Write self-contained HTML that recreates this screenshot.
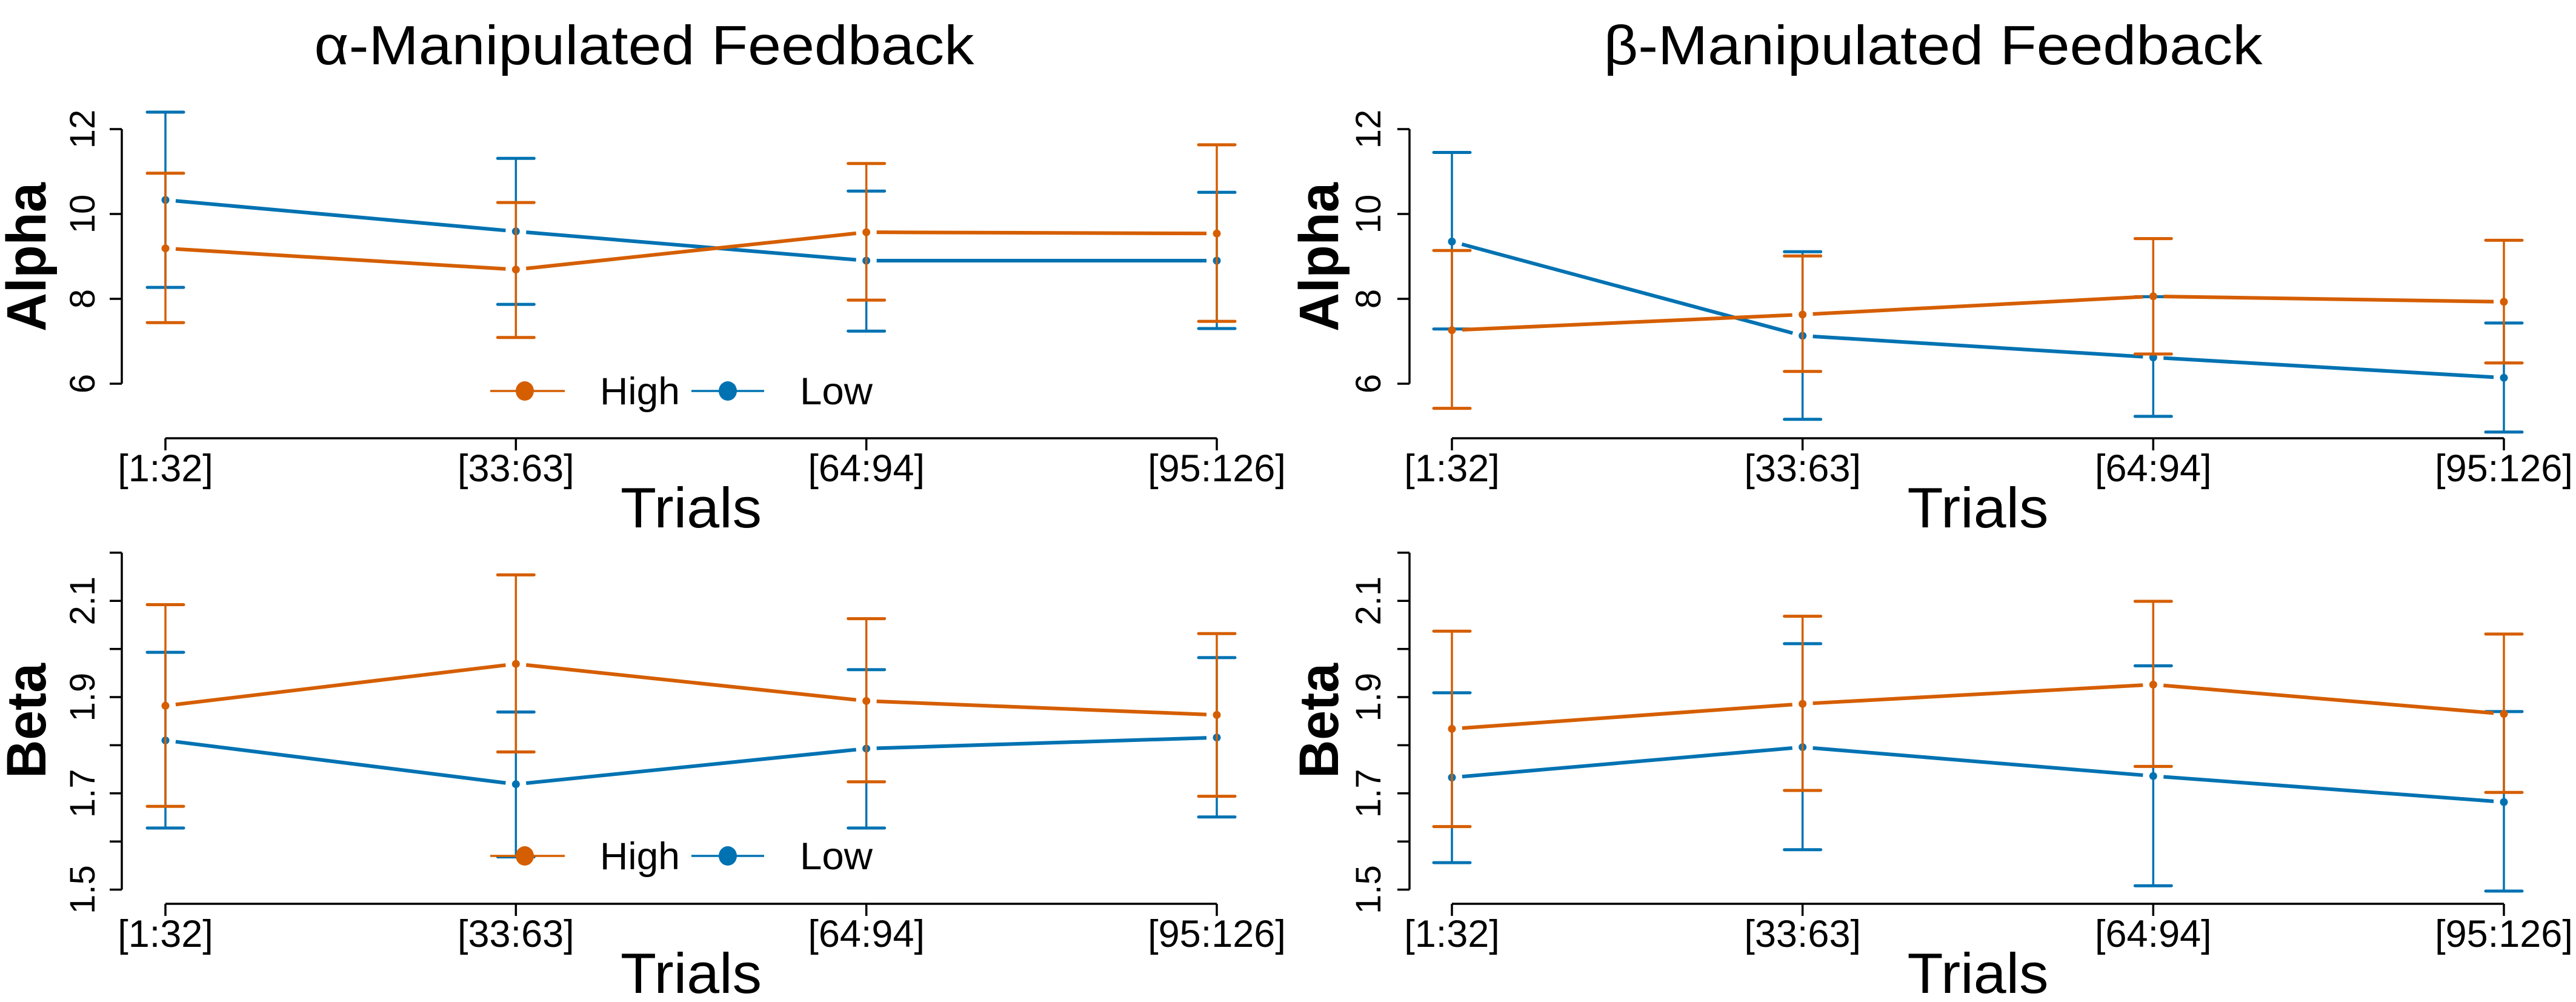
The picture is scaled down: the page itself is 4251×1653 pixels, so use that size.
<!DOCTYPE html>
<html><head><meta charset="utf-8"><style>
html,body{margin:0;padding:0;background:#fff;}
svg{display:block;font-family:"Liberation Sans",Arial,sans-serif;}
</style></head>
<body>
<svg id="fig" width="4251" height="1653" viewBox="0 0 4251 1653" xmlns="http://www.w3.org/2000/svg">
<rect width="4251" height="1653" fill="#fff"/>
<text x="1063" y="106" font-size="91" text-anchor="middle" textLength="1089" lengthAdjust="spacingAndGlyphs">α-Manipulated Feedback</text>
<text x="3190" y="106" font-size="91" text-anchor="middle" textLength="1087" lengthAdjust="spacingAndGlyphs">β-Manipulated Feedback</text>
</svg>
<script>
const categories = ["[1:32]","[33:63]","[64:94]","[95:126]"];
const seriesNames = ["High","Low"];
// top-left: alpha, alpha-manipulated
const tlHigh = [9.19, 8.69, 9.57, 9.54];
const tlHighUp = [10.96, 10.27, 11.19, 11.63];
const tlHighLo = [7.44, 7.09, 7.97, 7.47];
const tlLow = [10.33, 9.59, 8.90, 8.90];
const tlLowUp = [12.40, 11.31, 10.54, 10.51];
const tlLowLo = [8.27, 7.87, 7.24, 7.30];
// top-right: alpha, beta-manipulated
const trHigh = [7.26, 7.63, 8.06, 7.93];
const trHighUp = [9.14, 9.01, 9.42, 9.38];
const trHighLo = [5.42, 6.29, 6.70, 6.49];
const trLow = [9.35, 7.13, 6.62, 6.14];
const trLowUp = [11.45, 9.11, 8.05, 7.43];
const trLowLo = [7.29, 5.16, 5.23, 4.86];
// bottom-left: beta, alpha-manipulated
const blHigh = [1.882, 1.969, 1.892, 1.863];
const blHighUp = [2.092, 2.154, 2.063, 2.032];
const blHighLo = [1.673, 1.786, 1.724, 1.694];
const blLow = [1.810, 1.719, 1.793, 1.816];
const blLowUp = [1.993, 1.869, 1.957, 1.982];
const blLowLo = [1.628, 1.568, 1.628, 1.651];
// bottom-right: beta, beta-manipulated
const brHigh = [1.834, 1.886, 1.926, 1.865];
const brHighUp = [2.037, 2.068, 2.099, 2.031];
const brHighLo = [1.631, 1.706, 1.756, 1.702];
const brLow = [1.733, 1.796, 1.736, 1.682];
const brLowUp = [1.909, 2.011, 1.965, 1.870];
const brLowLo = [1.556, 1.583, 1.508, 1.497];
const alphaTicks = [6, 8, 10, 12];
const alphaTickLabels = ["6","8","10","12"];
const betaTicks = [1.5,1.6,1.7,1.8,1.9,2.0,2.1,2.2];
const betaTickLabels = ["1.5","","1.7","","1.9","","2.1",""];

const NS = "http://www.w3.org/2000/svg";
const svg = document.getElementById("fig");
const ORANGE = "#D55E00", BLUE = "#0072B2";
function mk(tag, attrs, parent) {
  const e = document.createElementNS(NS, tag);
  for (const k in attrs) e.setAttribute(k, attrs[k]);
  (parent || svg).appendChild(e);
  return e;
}

function panel(cfg) {
  const g = mk("g", {});
  
  
  const xs = i => cfg.x0 + i * (cfg.x1 - cfg.x0) / (categories.length - 1);
  const ys = v => cfg.yRef - (v - cfg.vRef) * cfg.ppu;
  // y axis
  const ticks = cfg.ticks, labels = cfg.tickLabels;
  const ya = mk("line", {x1: cfg.ax, x2: cfg.ax, y1: ys(ticks[0]), y2: ys(ticks[ticks.length-1]), stroke: "#000", "stroke-width": 3.5}, g);
  
  
  ticks.forEach((t, i) => {
    const y = ys(t);
    const tk = mk("line", {x1: cfg.ax - 20, x2: cfg.ax, y1: y, y2: y, stroke: "#000", "stroke-width": 3.5}, g);
    
    
    if (labels[i]) {
      const tl = mk("text", {x: cfg.labX, y: y, "font-size": 58, "text-anchor": "middle", transform: `rotate(-90 ${cfg.labX} ${y})`}, g);
      tl.textContent = labels[i];
      
      
    }
  });
  // y title
  const yt = mk("text", {x: cfg.ytX, y: cfg.ytY, "font-size": 92, "font-weight": "bold", "text-anchor": "middle", transform: `rotate(-90 ${cfg.ytX} ${cfg.ytY})`, textLength: cfg.ytLen, lengthAdjust: "spacingAndGlyphs"}, g);
  yt.textContent = cfg.yTitle;
  
  
  // x axis
  const xa = mk("line", {x1: xs(0), x2: xs(categories.length-1), y1: cfg.xAxY, y2: cfg.xAxY, stroke: "#000", "stroke-width": 3.5}, g);
  
  
  categories.forEach((c, i) => {
    const tk = mk("line", {x1: xs(i), x2: xs(i), y1: cfg.xAxY, y2: cfg.xAxY + 20, stroke: "#000", "stroke-width": 3.5}, g);
    
    
    const tl = mk("text", {x: xs(i), y: cfg.xAxY + 71, "font-size": 63, "text-anchor": "middle"}, g);
    tl.textContent = c;
    
    
  });
  const xt = mk("text", {x: (xs(0) + xs(3)) / 2, y: cfg.xAxY + 147, "font-size": 94, "text-anchor": "middle", textLength: 233, lengthAdjust: "spacingAndGlyphs"}, g);
  xt.textContent = "Trials";
  
  
  // series
  const series = [
    {name: "low", color: BLUE, v: cfg.low, up: cfg.lowUp, lo: cfg.lowLo},
    {name: "high", color: ORANGE, v: cfg.high, up: cfg.highUp, lo: cfg.highLo}
  ];
  series.forEach(s => {
    const sg = mk("g", {}, g);
    
    
    // lines with gaps
    for (let i = 0; i < s.v.length - 1; i++) {
      const xa1 = xs(i), ya1 = ys(s.v[i]), xb = xs(i+1), yb = ys(s.v[i+1]);
      const dx = xb - xa1, dy = yb - ya1, L = Math.hypot(dx, dy), gp = 17;
      const ln = mk("line", {x1: xa1 + dx*gp/L, y1: ya1 + dy*gp/L, x2: xb - dx*gp/L, y2: yb - dy*gp/L, stroke: s.color, "stroke-width": 6}, sg);
      
      
    }
    s.v.forEach((v, i) => {
      const x = xs(i);
      const eb = mk("line", {x1: x, x2: x, y1: ys(s.up[i]), y2: ys(s.lo[i]), stroke: s.color, "stroke-width": 3.5}, sg);
      
      
      [s.up[i], s.lo[i]].forEach(b => {
        const cp = mk("line", {x1: x - 30, x2: x + 30, y1: ys(b), y2: ys(b), stroke: s.color, "stroke-width": 5, "stroke-linecap": "round"}, sg);
        
        
      });
      const pt = mk("circle", {cx: x, cy: ys(v), r: 6.5, fill: s.color}, sg);
      
      
    });
  });
  // legend
  if (cfg.legY) {
    const lg = mk("g", {}, g);
    
    
    const items = [{c: ORANGE, x1: 809, x2: 932, mx: 866, tx: 990, tl: 132, t: seriesNames[0]},
                   {c: BLUE, x1: 1141, x2: 1261, mx: 1201, tx: 1320, tl: 120, t: seriesNames[1]}];
    items.forEach(it => {
      const ig = mk("g", {}, lg);
      
      
      mk("line", {x1: it.x1, x2: it.x2, y1: cfg.legY, y2: cfg.legY, stroke: it.c, "stroke-width": 3.5}, ig);
      mk("ellipse", {cx: it.mx, cy: cfg.legY, rx: 15, ry: 16, fill: it.c}, ig);
      const tx = mk("text", {x: it.tx, y: cfg.legY + 22, "font-size": 63, textLength: it.tl, lengthAdjust: "spacingAndGlyphs"}, ig);
      tx.textContent = it.t;
    });
  }
}

const alphaScale = {ticks: alphaTicks, tickLabels: alphaTickLabels, yRef: 353, vRef: 10, ppu: 70, xAxY: 723, yTitle: "Alpha", ytY: 424, ytLen: 246};
const betaScale = {ticks: betaTicks, tickLabels: betaTickLabels, yRef: 1150, vRef: 1.9, ppu: 794, xAxY: 1491, yTitle: "Beta", ytY: 1189, ytLen: 190};
const left = {ax: 201, x0: 273, x1: 2008, labX: 156, ytX: 75};
const right = {ax: 2326, x0: 2396, x1: 4132, labX: 2278, ytX: 2208};

panel(Object.assign({name: "panel-alpha-alpha-manipulated", high: tlHigh, highUp: tlHighUp, highLo: tlHighLo, low: tlLow, lowUp: tlLowUp, lowLo: tlLowLo, legY: 645}, alphaScale, left));
panel(Object.assign({name: "panel-alpha-beta-manipulated", high: trHigh, highUp: trHighUp, highLo: trHighLo, low: trLow, lowUp: trLowUp, lowLo: trLowLo}, alphaScale, right));
panel(Object.assign({name: "panel-beta-alpha-manipulated", high: blHigh, highUp: blHighUp, highLo: blHighLo, low: blLow, lowUp: blLowUp, lowLo: blLowLo, legY: 1412}, betaScale, left));
panel(Object.assign({name: "panel-beta-beta-manipulated", high: brHigh, highUp: brHighUp, highLo: brHighLo, low: brLow, lowUp: brLowUp, lowLo: brLowLo}, betaScale, right));
</script>
</body></html>
